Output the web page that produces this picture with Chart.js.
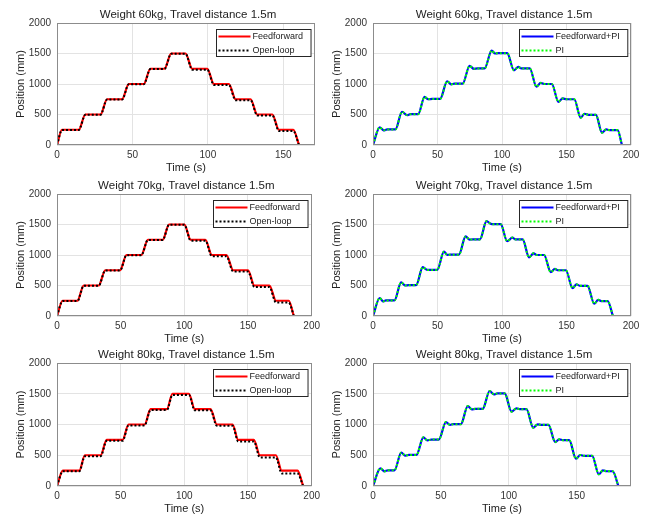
<!DOCTYPE html>
<html>
<head>
<meta charset="utf-8">
<script src="https://cdn.jsdelivr.net/npm/chart.js@4.4.1/dist/chart.umd.min.js"></script>
<style>
body { margin: 0; background: #fff; width: 648px; height: 517px; overflow: hidden; position: relative; }
canvas { position: absolute; }
</style>
</head>
<body>
<canvas id="c60" width="324" height="180" style="left:0;top:0"></canvas>
<canvas id="p60" width="324" height="180" style="left:324px;top:0"></canvas>
<canvas id="c70" width="324" height="180" style="left:0;top:170px"></canvas>
<canvas id="p70" width="324" height="180" style="left:324px;top:170px"></canvas>
<canvas id="c80" width="324" height="180" style="left:0;top:337px"></canvas>
<canvas id="p80" width="324" height="180" style="left:324px;top:337px"></canvas>
<script>
// time (s) / position (mm) breakpoints

// left column: feedforward vs open-loop
const t60 = [0, 3.3, 14.4, 18.8, 28.8, 33.2, 43.1, 47.6, 57.5, 61.9, 71.2, 75.7, 85.2, 89.6, 99.6, 104, 113.9, 118.4, 128.3, 132.7, 142.7, 147.1, 156.6, 160.4];
const ff60 = [0, 250, 250, 500, 500, 750, 750, 1000, 1000, 1250, 1250, 1500, 1500, 1250, 1250, 1000, 1000, 750, 750, 500, 500, 250, 250, 0];
const ol60 = [0, 245, 245, 495, 495, 745, 745, 995, 995, 1245, 1245, 1495, 1495, 1235, 1235, 985, 985, 735, 735, 485, 485, 230, 230, 0];

const t70 = [0, 4.4, 16, 21, 32.7, 37.9, 49.5, 54.6, 66.2, 71.4, 83, 88, 100, 105, 116.5, 121.6, 133, 138.4, 150, 155, 166.8, 172, 182, 186];
const ff70 = [0, 250, 250, 500, 500, 750, 750, 1000, 1000, 1250, 1250, 1500, 1500, 1250, 1250, 1000, 1000, 750, 750, 500, 500, 250, 250, 0];
const ol70 = [0, 245, 245, 495, 495, 745, 745, 995, 995, 1245, 1245, 1495, 1495, 1235, 1235, 980, 980, 730, 730, 475, 475, 220, 220, 0];

const t80 = [0, 4.6, 17.5, 21.9, 34.3, 39, 51.5, 56.2, 68.8, 73.5, 86.3, 90.7, 103.6, 108.2, 120.6, 125.5, 137.9, 142.3, 154.6, 159.3, 171.9, 176.5, 188.9, 193.3];
const ff80 = [0, 250, 250, 500, 500, 750, 750, 1000, 1000, 1250, 1250, 1500, 1500, 1250, 1250, 1000, 1000, 750, 750, 500, 500, 250, 250, 0];
const ol80 = [0, 240, 240, 485, 485, 735, 735, 985, 985, 1235, 1235, 1480, 1480, 1230, 1230, 980, 980, 725, 725, 465, 465, 205, 205, 0];

// right column: feedforward+PI vs PI (the two curves sit on top of each other)
const tp60 = [0, 5.2, 8.3, 11, 17.4, 22.5, 26.4, 29, 35, 40, 42.7, 46, 52, 57.5, 60.6, 63, 69.5, 74.9, 78.2, 81, 86.5, 92, 94.6, 97,
  104, 109.3, 112.7, 115, 121.5, 126.7, 130, 133, 138.6, 143.8, 147, 150, 156, 161, 164, 167, 172.8, 177.5, 180.8, 183, 189.6, 193];
const pi60 = [0, 290, 240, 255, 255, 545, 490, 505, 505, 790, 750, 755, 755, 1045, 995, 1005, 1005, 1297, 1248, 1255, 1255, 1548, 1500, 1505,
  1505, 1225, 1280, 1255, 1255, 955, 1018, 1000, 1000, 708, 763, 750, 750, 447, 512, 495, 495, 202, 256, 245, 245, 0];

const tp70 = [0, 5.2, 7.8, 10, 16.6, 21.8, 25.1, 27.5, 33.4, 38.6, 42, 44.5, 49.8, 55, 57.5, 60, 66.6, 71.8, 74.9, 77.5, 82.9, 88, 91.2, 93.5,
  99, 104, 108, 110.5, 116, 121, 124.4, 127, 132.6, 137.8, 141, 143.5, 149.5, 154.7, 157.8, 160.5, 166.3, 171.5, 174.6, 177, 181.9, 186];
const pi70 = [0, 295, 240, 255, 255, 550, 500, 505, 505, 800, 755, 755, 755, 1055, 1003, 1005, 1005, 1305, 1253, 1255, 1255, 1555, 1512, 1505,
  1505, 1226, 1285, 1255, 1255, 962, 1028, 1000, 1000, 719, 772, 750, 750, 458, 517, 495, 495, 202, 265, 245, 245, 0];

const tp80 = [0, 5.4, 8.4, 11, 15.8, 20.8, 24, 26.5, 32, 37.1, 40, 43, 48.5, 53.7, 56.7, 59, 64.7, 69.8, 72.8, 75.5, 80.8, 85.9, 89.1, 91.5,
  97, 102, 105.7, 108, 113, 118, 121.3, 124, 129.2, 134.2, 137.1, 140, 144.5, 149.5, 152.7, 155.5, 161.4, 166.3, 169.3, 172, 176.5, 180.7];
const pi80 = [0, 287, 238, 255, 255, 542, 493, 505, 505, 791, 742, 755, 755, 1040, 992, 1005, 1005, 1300, 1247, 1255, 1255, 1545, 1490, 1505,
  1505, 1209, 1263, 1250, 1250, 948, 1003, 995, 995, 715, 759, 745, 745, 444, 504, 490, 490, 190, 255, 240, 240, 0];

const FONT = "'Liberation Sans', Arial, Helvetica, sans-serif";

function pts(t, v) {
    return t.map((x, i) => ({ x: x, y: v[i] }));
}

// frame, title and boxed legend inside the axes, matlab style
const framePlugin = {
    id: 'frame',
    afterDraw(chart, args, opts) {
        const ctx = chart.ctx;
        const a = chart.chartArea;
        ctx.save();
        ctx.strokeStyle = '#8c8c8c';
        ctx.lineWidth = 1;
        ctx.strokeRect(Math.round(a.left) + 0.5, Math.round(a.top) + 0.5, Math.round(a.right - a.left) - 1, Math.round(a.bottom - a.top) - 1);

        ctx.fillStyle = '#222';
        ctx.font = '11.5px ' + FONT;
        ctx.textAlign = 'center';
        ctx.textBaseline = 'middle';
        ctx.fillText(opts.title, (a.left + a.right) / 2 + 2, a.top - 8);

        ctx.font = '9px ' + FONT;
        const sets = chart.data.datasets;
        const textW = Math.max(...sets.map(d => ctx.measureText(d.label).width));
        const w = 2 + 32 + 2 + textW + 8;
        const h = 27;
        const bx = Math.round(a.right - 4 - w) + 0.5;
        const by = Math.round(a.top + 6) + 0.5;
        ctx.fillStyle = '#fff';
        ctx.fillRect(bx, by, w, h);
        ctx.strokeStyle = '#262626';
        ctx.strokeRect(bx, by, w, h);
        ctx.textAlign = 'left';
        sets.forEach((d, i) => {
            const y = by + 7 + i * 14;
            ctx.beginPath();
            ctx.strokeStyle = d.borderColor;
            ctx.lineWidth = d.borderWidth;
            ctx.setLineDash(d.borderDash || []);
            ctx.moveTo(bx + 2, y);
            ctx.lineTo(bx + 34, y);
            ctx.stroke();
            ctx.setLineDash([]);
            ctx.fillStyle = '#222';
            ctx.fillText(d.label, bx + 36, y);
        });
        ctx.restore();
    }
};

function makeChart(id, spec) {
    new Chart(document.getElementById(id), {
        type: 'line',
        data: { datasets: spec.datasets },
        options: {
            responsive: false,
            animation: false,
            layout: {
                padding: {
                    left: spec.padLeft,
                    right: spec.padRight,
                    top: spec.plotTop - spec.canvasTop,
                    bottom: spec.canvasTop + 180 - spec.plotBottom - 30
                }
            },
            elements: { point: { radius: 0 } },
            plugins: {
                legend: { display: false },
                tooltip: { enabled: false },
                frame: { title: spec.title }
            },
            scales: {
                x: {
                    type: 'linear', min: 0, max: spec.xMax,
                    ticks: { stepSize: 50, includeBounds: false, padding: 4, color: '#333', font: { family: FONT, size: 10 }, callback: v => String(v) },
                    grid: { color: '#e3e3e3', drawTicks: false },
                    border: { display: false },
                    title: { display: true, text: 'Time (s)', color: '#222', padding: { top: 0, bottom: 0 }, font: { family: FONT, size: 11 } },
                    afterFit: s => { s.height = 30; }
                },
                y: {
                    min: 0, max: 2000,
                    ticks: { stepSize: 500, padding: 6, color: '#333', font: { family: FONT, size: 10 }, callback: v => String(v) },
                    grid: { color: '#e3e3e3', drawTicks: false },
                    border: { display: false },
                    title: { display: true, text: 'Position (mm)', color: '#222', padding: { top: 6.5, bottom: 0 }, font: { family: FONT, size: 11 } },
                    afterFit: s => { s.width = 49; }
                }
            }
        },
        plugins: [framePlugin]
    });
}

function ffSets(t, ff, ol) {
    return [
        { label: 'Feedforward', data: pts(t, ff), borderColor: '#ff0000', borderWidth: 2.2, order: 2, cubicInterpolationMode: 'monotone' },
        { label: 'Open-loop', data: pts(t, ol), borderColor: '#000000', borderWidth: 2, borderDash: [2, 2], order: 1, cubicInterpolationMode: 'monotone' }
    ];
}

function piSets(t, v) {
    return [
        { label: 'Feedforward+PI', data: pts(t, v), borderColor: '#0000ff', borderWidth: 2.2, order: 2, cubicInterpolationMode: 'monotone' },
        { label: 'PI', data: pts(t, v), borderColor: '#00ff00', borderWidth: 2, borderDash: [2, 2], order: 1, cubicInterpolationMode: 'monotone' }
    ];
}

makeChart('c60', { title: 'Weight 60kg, Travel distance 1.5m', xMax: 171, canvasTop: 0, plotTop: 23, plotBottom: 145, padLeft: 8, padRight: 9, datasets: ffSets(t60, ff60, ol60) });
makeChart('p60', { title: 'Weight 60kg, Travel distance 1.5m', xMax: 200, canvasTop: 0, plotTop: 23, plotBottom: 145, padLeft: 0, padRight: 17, datasets: piSets(tp60, pi60) });
makeChart('c70', { title: 'Weight 70kg, Travel distance 1.5m', xMax: 200, canvasTop: 170, plotTop: 194, plotBottom: 316, padLeft: 8, padRight: 9, datasets: ffSets(t70, ff70, ol70) });
makeChart('p70', { title: 'Weight 70kg, Travel distance 1.5m', xMax: 200, canvasTop: 170, plotTop: 194, plotBottom: 316, padLeft: 0, padRight: 17, datasets: piSets(tp70, pi70) });
makeChart('c80', { title: 'Weight 80kg, Travel distance 1.5m', xMax: 200, canvasTop: 337, plotTop: 363, plotBottom: 486, padLeft: 8, padRight: 9, datasets: ffSets(t80, ff80, ol80) });
makeChart('p80', { title: 'Weight 80kg, Travel distance 1.5m', xMax: 190, canvasTop: 337, plotTop: 363, plotBottom: 486, padLeft: 0, padRight: 17, datasets: piSets(tp80, pi80) });
</script>
</body>
</html>
